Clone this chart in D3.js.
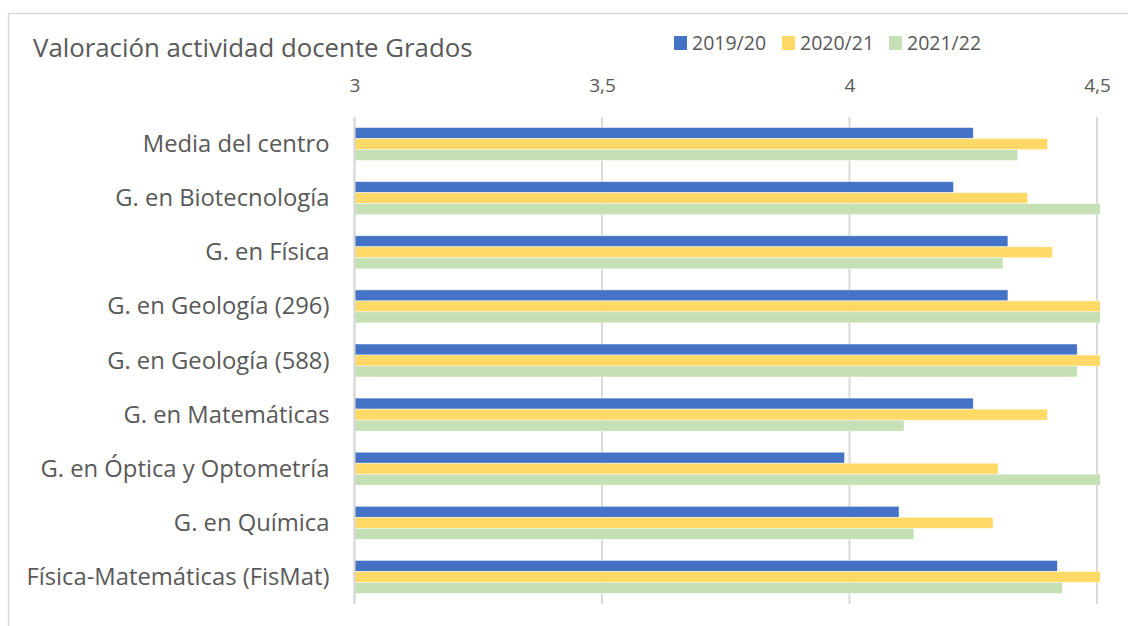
<!DOCTYPE html>
<html>
<head>
<meta charset="utf-8">
<script src="https://cdn.jsdelivr.net/npm/d3@7"></script>
<style>
  body { margin: 0; background: #fff; }
  svg text { font-family: "Open Sans", sans-serif; fill: #595959; }
</style>
</head>
<body>
<div id="chart"></div>
<script>
var categories = [
  "Media del centro",
  "G. en Biotecnología",
  "G. en Física",
  "G. en Geología (296)",
  "G. en Geología (588)",
  "G. en Matemáticas",
  "G. en Óptica y Optometría",
  "G. en Química",
  "Física-Matemáticas (FisMat)"
];
var seriesNames = ["2019/20", "2020/21", "2021/22"];
var values1920 = [4.25, 4.21, 4.32, 4.32, 4.46, 4.25, 3.99, 4.10, 4.42];
var values2021 = [4.40, 4.36, 4.41, 4.52, 4.52, 4.40, 4.30, 4.29, 4.52];
var values2122 = [4.34, 4.52, 4.31, 4.52, 4.46, 4.11, 4.52, 4.13, 4.43];
var tickValues = [3, 3.5, 4, 4.5];
var colors = ["#4472C4", "#FFD966", "#C5E0B4"];

var width = 1128, height = 626;
var margin = { top: 117, right: 31, bottom: 22, left: 354.5 };
var innerW = width - margin.left - margin.right;
var innerH = height - margin.top - margin.bottom;

var svg = d3.select("#chart").append("svg")
  .attr("width", width)
  .attr("height", height);

// chart area border
svg.append("rect")
  .attr("x", 8.5).attr("y", 13.5)
  .attr("width", width).attr("height", height)
  .attr("fill", "none")
  .attr("stroke", "#d9d9d9")
  .attr("stroke-width", 1.5);

svg.append("text")
  .attr("x", 33).attr("y", 57)
  .attr("font-size", 25.8)
  .text("Valoración actividad docente Grados");

var x = d3.scaleLinear().domain([3, 4.5]).range([0, 742.5]);
var y = d3.scaleBand().domain(categories).range([0, innerH])
  .paddingInner(0.39).paddingOuter(0.195);
var ySub = d3.scaleBand().domain(seriesNames).range([0, y.bandwidth()]);

var g = svg.append("g").attr("transform", `translate(${margin.left},${margin.top})`);

svg.append("clipPath").attr("id", "plot-clip")
  .append("rect")
  .attr("x", 0).attr("y", -5)
  .attr("width", x(4.5) + 3).attr("height", innerH + 10);

// gridlines
g.append("g").selectAll("line").data(tickValues).join("line")
  .attr("x1", d => x(d)).attr("x2", d => x(d))
  .attr("y1", 0).attr("y2", innerH)
  .attr("stroke", "#d9d9d9")
  .attr("stroke-width", 2);

// top axis labels
var xAxis = d3.axisTop(x).tickValues(tickValues).tickSize(0).tickPadding(0)
  .tickFormat(d => String(d).replace(".", ","));
g.append("g").attr("transform", "translate(0,-25)").call(xAxis)
  .call(s => s.select(".domain").remove())
  .selectAll("text")
  .attr("font-size", 19)
  .attr("fill", "#595959");

// category labels
var yAxis = d3.axisLeft(y).tickSize(0).tickPadding(25);
g.append("g").call(yAxis)
  .call(s => s.select(".domain").remove())
  .selectAll("text")
  .attr("font-size", 23.8)
  .attr("dy", "0.34em")
  .attr("fill", "#595959");

// bars
var series = [values1920, values2021, values2122];
var rows = categories.map((c, i) => ({
  cat: c,
  vals: seriesNames.map((s, j) => ({ s: s, v: series[j][i], c: colors[j] }))
}));

var bars = g.append("g").attr("clip-path", "url(#plot-clip)");
bars.selectAll("g").data(rows).join("g")
  .attr("transform", d => `translate(0,${y(d.cat)})`)
  .selectAll("rect").data(d => d.vals).join("rect")
  .attr("x", 0)
  .attr("y", d => ySub(d.s))
  .attr("width", d => x(d.v))
  .attr("height", ySub.bandwidth())
  .attr("fill", d => d.c)
  .attr("stroke", "#fff")
  .attr("stroke-opacity", 0.6)
  .attr("stroke-width", 0.75);

// axis line at 3 on top of bars
g.append("line")
  .attr("x1", x(3)).attr("x2", x(3))
  .attr("y1", 0).attr("y2", innerH)
  .attr("stroke", "#d9d9d9").attr("stroke-width", 2);

// legend
var legendX = [674, 782, 889];
var legend = svg.append("g");
seriesNames.forEach((s, i) => {
  legend.append("rect")
    .attr("x", legendX[i]).attr("y", 36)
    .attr("width", 13).attr("height", 14)
    .attr("fill", colors[i]);
  legend.append("text")
    .attr("x", legendX[i] + 18).attr("y", 50)
    .attr("font-size", 19.5)
    .text(s);
});
</script>
</body>
</html>
